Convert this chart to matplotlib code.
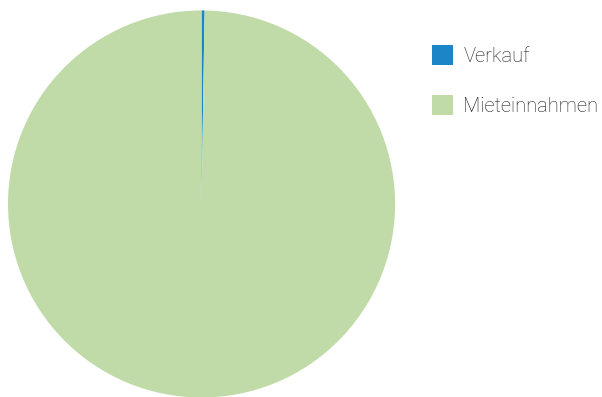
import matplotlib.pyplot as plt

# Daten
labels = ['Verkauf', 'Mieteinnahmen']
values = [0.25, 99.75]
colors = ['#1a86c8', '#c0dba8']

plt.rcParams['font.family'] = ['Roboto', 'DejaVu Sans']

fig = plt.figure(figsize=(6.02, 3.97), dpi=100)
ax = fig.add_axes([0.0133, -0.0013, 0.643, 0.975])

wedges, _ = ax.pie(values, colors=colors, startangle=90, counterclock=False,
                   wedgeprops={'linewidth': 0})
ax.set_xlim(-1, 1)
ax.set_ylim(-1, 1)
ax.set_aspect('equal')

fig.legend(wedges, labels, loc='upper left', bbox_to_anchor=(432 / 602, 1 - 45 / 397),
           frameon=False, borderpad=0, borderaxespad=0,
           handlelength=1.05, handleheight=1.15, handletextpad=0.5,
           labelspacing=1.45, prop={'size': 14.5, 'weight': 'light'},
           labelcolor='#1a1a1a')

fig.savefig('out.png', dpi=100)
